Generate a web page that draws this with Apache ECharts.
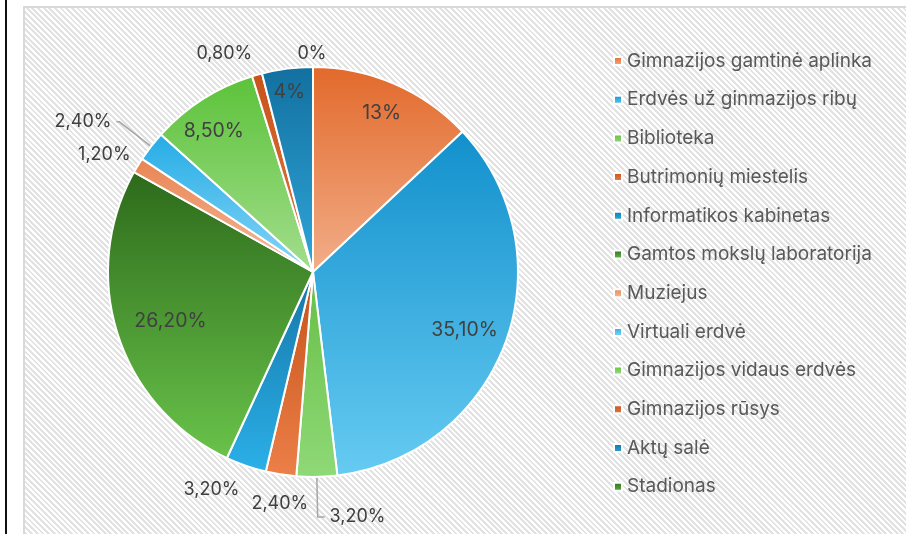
<!DOCTYPE html>
<html>
<head>
<meta charset="utf-8">
<script src="https://cdn.jsdelivr.net/npm/echarts@6/dist/echarts.min.js"></script>
<style>
  html, body { margin: 0; padding: 0; background: #fff; }
  #page { position: relative; width: 906px; height: 534px; overflow: hidden; background: #fff; }
  #bar { position: absolute; left: 5px; top: 0; width: 2px; height: 534px; background: #111; }
  #frame {
    position: absolute; left: 23px; top: 6px; width: 900px; height: 540px;
    border: 2px solid #d9d9d9;
    background: repeating-linear-gradient(45deg, #ffffff 0px, #ffffff 2px, #e2e2e2 2px, #e2e2e2 4px);
  }
  #chart { position: absolute; left: 0; top: 0; width: 906px; height: 534px; }
</style>
</head>
<body>
<div id="page">
  <div id="bar"></div>
  <div id="frame"></div>
  <div id="chart"></div>
</div>
<script>
// categories, in drawing order (clockwise from 12 o'clock)
var categories = [
  "Gimnazijos gamtinė aplinka",
  "Erdvės už ginmazijos ribų",
  "Biblioteka",
  "Butrimonių miestelis",
  "Informatikos kabinetas",
  "Gamtos mokslų laboratorija",
  "Muziejus",
  "Virtuali erdvė",
  "Gimnazijos vidaus erdvės",
  "Gimnazijos rūsys",
  "Aktų salė",
  "Stadionas"
];
// shares in percent
var shares = [13, 35.1, 3.2, 2.4, 3.2, 26.2, 1.2, 2.4, 8.5, 0.8, 4, 0];

// gradient colours per slice [top, bottom]
var sliceColors = [
  ["#e2692b", "#f2ae89"],
  ["#1290cc", "#66cbf2"],
  ["#66be46", "#8fd977"],
  ["#c4511a", "#ec8048"],
  ["#1576a8", "#2bb0e8"],
  ["#2d6a1b", "#69c34a"],
  ["#e98452", "#f5bc9e"],
  ["#25ace5", "#88d6f7"],
  ["#5cc23a", "#a3de8d"],
  ["#c8521a", "#e07a45"],
  ["#12709f", "#30a6da"],
  ["#2f6d1e", "#5bb23c"]
];
// which labels go inside the slice
var insideLabel = [true, true, false, false, false, true, false, false, true, false, true, false];
// outside label line settings [length, length2, visible]
var outsideLine = {
  2: [40, 7, true],
  3: [26, 2, false],
  4: [20, 2, false],
  6: [12, 6, false],
  7: [40, 3, true],
  9: [25, 5, false],
  11: [14, 2, false]
};
// small label nudges [dx, dy, align]
var outsideNudge = {
  3: [10, 3, "center"],
  4: [7, 5],
  6: [14, -5],
  9: [12, 3],
  11: [-8, 1, "center"]
};
var insideNudge = {
  1: [-11, -1],
  5: [22, -4],
  8: [-6, 5],
  10: [-2, -8]
};

function fmt(v) {
  if (Math.round(v) === v) return v + "%";
  return v.toFixed(2).replace(".", ",") + "%";
}

function nudgeFrom(table) {
  return function(p) {
    var n = table[p.dataIndex];
    var out = { hideOverlap: false, moveOverlap: false };
    if (n) {
      out.dx = n[0];
      out.dy = n[1];
      if (n[2]) out.align = n[2];
    }
    return out;
  };
}

var chart = echarts.init(document.getElementById("chart"));

var mainData = [];
var ringData = [];
for (var i = 0; i < categories.length; i++) {
  var grad = new echarts.graphic.LinearGradient(0, 0, 0, 1, [
    { offset: 0, color: sliceColors[i][0] },
    { offset: 1, color: sliceColors[i][1] }
  ]);
  var ln = outsideLine[i] || [10, 5, false];
  mainData.push({
    name: categories[i],
    value: shares[i],
    itemStyle: { color: grad },
    label: { show: !insideLabel[i] },
    labelLine: { show: ln[2], length: ln[0], length2: ln[1] }
  });
  ringData.push({
    name: categories[i],
    value: shares[i],
    label: { show: insideLabel[i] }
  });
}

var option = {
  animation: false,
  legend: {
    orient: "vertical",
    left: 608,
    top: 46,
    itemWidth: 8,
    itemHeight: 8,
    itemGap: 18.7,
    icon: "rect",
    data: categories,
    textStyle: {
      fontFamily: "Inter",
      fontSize: 19,
      lineHeight: 20,
      color: "#595959"
    }
  },
  series: [
    {
      type: "pie",
      center: [313, 272],
      radius: 205,
      startAngle: 90,
      clockwise: true,
      avoidLabelOverlap: false,
      itemStyle: { borderColor: "#ffffff", borderWidth: 2 },
      label: {
        position: "outside",
        fontFamily: "Inter",
        fontSize: 18,
        color: "#404040",
        formatter: function(p) { return fmt(p.value); }
      },
      labelLine: {
        lineStyle: { color: "#a6a6a6", width: 1.5 },
        smooth: false
      },
      labelLayout: nudgeFrom(outsideNudge),
      emphasis: { disabled: true },
      data: mainData
    },
    {
      type: "pie",
      center: [313, 272],
      radius: [135, 205],
      startAngle: 90,
      clockwise: true,
      silent: true,
      legendHoverLink: false,
      itemStyle: { color: "rgba(0,0,0,0)", borderWidth: 0 },
      label: {
        position: "inside",
        fontFamily: "Inter",
        fontSize: 19.5,
        color: "#404040",
        formatter: function(p) { return fmt(p.value); }
      },
      labelLine: { show: false },
      labelLayout: nudgeFrom(insideNudge),
      emphasis: { disabled: true },
      data: ringData
    }
  ]
};

chart.setOption(option);
</script>
</body>
</html>
